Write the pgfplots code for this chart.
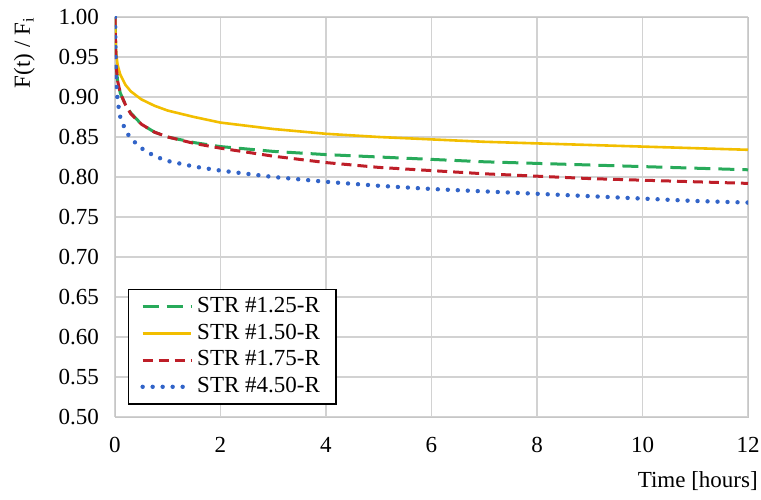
\documentclass[border=0pt]{standalone}
\usepackage{pgfplots}
\pgfplotsset{compat=1.18}
\usepackage{fontspec}
\setmainfont{Liberation Serif}
\definecolor{cgreen}{RGB}{40,170,90}
\definecolor{cyellow}{RGB}{242,190,0}
\definecolor{cred}{RGB}{190,30,40}
\definecolor{cblue}{RGB}{50,100,200}
\begin{document}
\begin{tikzpicture}
\fontsize{11.5}{13.5}\selectfont
\begin{axis}[
  scale only axis,
  width=316.5pt, height=200pt,
  xmin=0, xmax=12, ymin=0.5, ymax=1.0,
  xtick={0,2,...,12},
  ytick={0.50,0.55,...,1.001},
  grid=major,
  grid style={gray!35, line width=0.6pt},
  axis line style={gray!45},
  tick style={draw=none},
  /pgf/number format/assume math mode=true,
  yticklabel style={/pgf/number format/fixed, /pgf/number format/fixed zerofill, /pgf/number format/precision=2},
  ticklabel style={font=\fontsize{11.5}{13.5}\selectfont},
  xticklabel style={yshift=-6pt},
  yticklabel style={xshift=-4pt},
  xlabel={Time [hours]},
  xlabel style={at={(axis description cs:1.016,-0.135)}, anchor=north east, inner sep=0pt},
  ylabel={F(t) / F$_\mathrm{i}$},
  ylabel style={at={(axis description cs:-0.126,1)}, anchor=south east, inner sep=0pt},
  legend style={at={(0.02,0.03)}, anchor=south west, draw=black, line width=0.8pt,
    font=\fontsize{11.5}{13.5}\selectfont, row sep=0pt, inner xsep=6pt, inner ysep=2pt},
  legend cell align=left,
  legend image code/.code={\draw[#1] (0cm,0cm) -- (0.85cm,0cm);},
]
\coordinate (bl) at (rel axis cs:0,0);
\coordinate (tr) at (rel axis cs:1,1);
\addplot[cgreen, line width=1.5pt, dash pattern=on 8pt off 4pt] coordinates {
(0,1.0) (0.02,0.94) (0.05,0.92) (0.1,0.905) (0.2,0.89) (0.3,0.88) (0.5,0.866) (0.75,0.856) (1,0.850) (1.5,0.843) (2,0.838) (3,0.832) (4,0.828) (5,0.825) (6,0.822) (7,0.819) (8,0.817) (9,0.815) (10,0.813) (11,0.811) (12,0.809)};
\addlegendentry{STR \#1.25-R}
\addplot[cyellow, line width=1.3pt] coordinates {
(0,1.0) (0.02,0.955) (0.05,0.94) (0.1,0.928) (0.2,0.915) (0.3,0.907) (0.5,0.897) (0.75,0.889) (1,0.883) (1.5,0.875) (2,0.868) (3,0.860) (4,0.854) (5,0.850) (6,0.847) (7,0.844) (8,0.842) (9,0.840) (10,0.838) (11,0.836) (12,0.834)};
\addlegendentry{STR \#1.50-R}
\addplot[cred, line width=1.5pt, dash pattern=on 5pt off 3pt] coordinates {
(0,1.0) (0.02,0.94) (0.05,0.92) (0.1,0.905) (0.2,0.89) (0.3,0.879) (0.5,0.866) (0.75,0.856) (1,0.850) (1.5,0.842) (2,0.836) (3,0.826) (4,0.818) (5,0.812) (6,0.808) (7,0.804) (8,0.801) (9,0.798) (10,0.796) (11,0.794) (12,0.792)};
\addlegendentry{STR \#1.75-R}
\addplot[cblue, line width=2.2pt, line cap=round, dash pattern=on 0pt off 5pt] coordinates {
(0,1.0) (0.02,0.92) (0.05,0.895) (0.1,0.875) (0.2,0.858) (0.3,0.848) (0.5,0.836) (0.75,0.826) (1,0.820) (1.5,0.813) (2,0.808) (3,0.800) (4,0.794) (5,0.789) (6,0.785) (7,0.782) (8,0.779) (9,0.776) (10,0.773) (11,0.770) (12,0.768)};
\addlegendentry{STR \#4.50-R}
\end{axis}
\pgfresetboundingbox
\path (bl) ++(-57.5pt,-41.5pt) coordinate (A);
\path (tr) ++(6.5pt,8.5pt) coordinate (B);
\path[use as bounding box] (A) rectangle (B);
\end{tikzpicture}
\end{document}
